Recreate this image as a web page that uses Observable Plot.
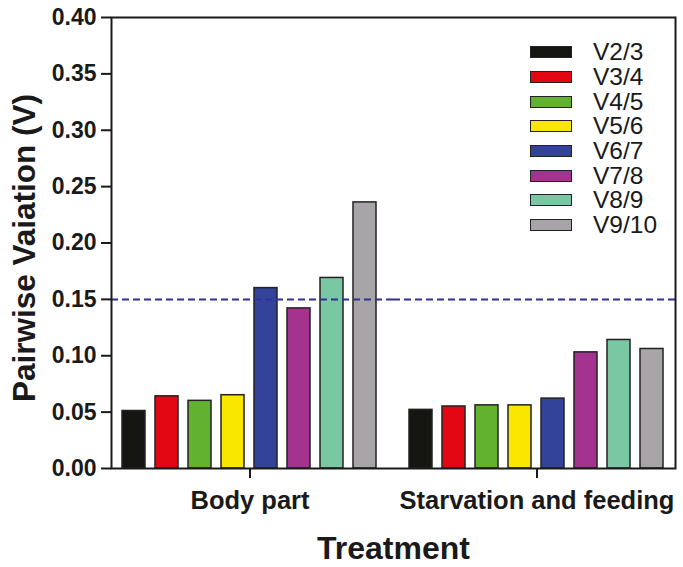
<!DOCTYPE html>
<html>
<head>
<meta charset="utf-8">
<script src="https://cdn.jsdelivr.net/npm/d3@7"></script>
<script src="https://cdn.jsdelivr.net/npm/@observablehq/plot@0.6"></script>
<style>
  html, body { margin: 0; padding: 0; background: #fff; }
  #wrap { position: relative; width: 683px; height: 567px; font-family: "Liberation Sans", Arial, sans-serif; color: #1a1a1a; }
  #legend { position: absolute; left: 530px; top: 40px; }
  .row { display: flex; align-items: center; height: 24.65px; }
  .sw { width: 40px; height: 10px; border: 1.5px solid #222; margin-right: 21px; }
  .lb { font-size: 24.5px; line-height: 24px; }
</style>
</head>
<body>
<div id="wrap"></div>
<script>
const groups = ["Body part", "Starvation and feeding"];
const series = ["V2/3", "V3/4", "V4/5", "V5/6", "V6/7", "V7/8", "V8/9", "V9/10"];
const bodyPart = [0.051, 0.064, 0.060, 0.065, 0.160, 0.142, 0.169, 0.236];
const starvation = [0.052, 0.055, 0.056, 0.056, 0.062, 0.103, 0.114, 0.106];
const colors = ["#151512", "#e30613", "#62b22f", "#f9e700", "#34439a", "#a4338f", "#7ac7a3", "#a8a5a9"];
const yTicks = [0, 0.05, 0.10, 0.15, 0.20, 0.25, 0.30, 0.35, 0.40];
const cutoff = 0.15;
const yTitle = "Pairwise Vaiation (V)";
const xTitle = "Treatment";

const data = [];
series.forEach((s, i) => {
  data.push({group: groups[0], series: s, value: bodyPart[i]});
  data.push({group: groups[1], series: s, value: starvation[i]});
});
const cutLeft = [{group: groups[0], value: cutoff}];
const cutRight = [{group: groups[1], value: cutoff}];

const ink = "#1a1a1a";
const font = "'Liberation Sans', Arial, sans-serif";
const dash = {stroke: "#2e3192", strokeWidth: 2, strokeDasharray: "7,4"};
const plot = Plot.plot({
  width: 683,
  height: 567,
  marginLeft: 110,
  marginRight: 8,
  marginTop: 17,
  marginBottom: 99,
  style: {fontFamily: font, color: ink, background: "#fff"},
  fx: {domain: groups, paddingInner: 0.035, paddingOuter: 0, label: null},
  x: {domain: series, padding: 0.3, axis: null},
  y: {domain: [0, 0.4], label: null},
  color: {domain: series, range: colors},
  marks: [
    Plot.barY(data, {fx: "group", x: "series", y: "value", fill: "series", stroke: "#222", strokeWidth: 1.5}),
    Plot.ruleY(cutLeft, {fx: "group", y: "value", insetRight: -5, ...dash}),
    Plot.ruleY(cutRight, {fx: "group", y: "value", insetLeft: -5, ...dash}),
    Plot.frame({facet: "super", stroke: ink, strokeWidth: 2}),
    Plot.axisY({ticks: yTicks, tickFormat: d3.format(".2f"), tickSize: 10, tickPadding: 5, fontSize: 23, fontWeight: "bold", strokeWidth: 2, label: null}),
    Plot.axisFx({anchor: "bottom", tickSize: 10, tickPadding: 12, fontSize: 25.5, fontWeight: "bold", strokeWidth: 2, label: null}),
    Plot.text([yTitle], {facet: "super", frameAnchor: "left", textAnchor: "middle", dx: -87, dy: 5, rotate: -90, fontSize: 31.5, fontWeight: "bold", fill: ink}),
    Plot.text([xTitle], {facet: "super", frameAnchor: "bottom", dy: 90, fontSize: 32, fontWeight: "bold", fill: ink})
  ]
});

const wrap = document.getElementById("wrap");
wrap.appendChild(plot);

const legend = document.createElement("div");
legend.id = "legend";
series.forEach((s, i) => {
  const row = document.createElement("div");
  row.className = "row";
  const sw = document.createElement("div");
  sw.className = "sw";
  sw.style.background = colors[i];
  const lb = document.createElement("span");
  lb.className = "lb";
  lb.textContent = s;
  row.appendChild(sw);
  row.appendChild(lb);
  legend.appendChild(row);
});
wrap.appendChild(legend);
</script>
</body>
</html>
